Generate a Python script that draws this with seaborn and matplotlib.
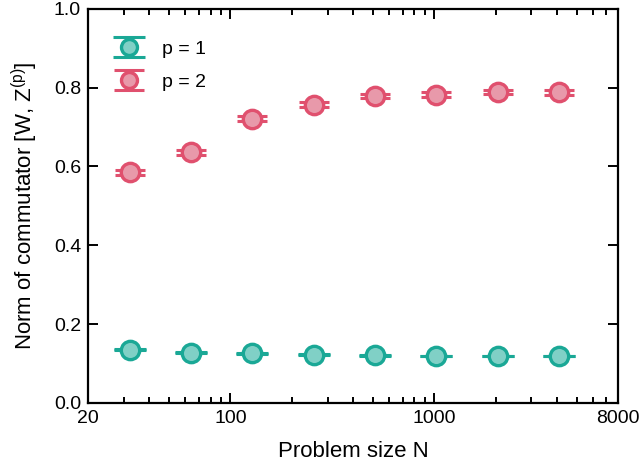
#Module
import numpy as np
import pandas as pd
import matplotlib
matplotlib.use('Agg')
import matplotlib.pyplot as plt
import seaborn as sns
from matplotlib.lines import Line2D
from matplotlib.ticker import FixedLocator, NullFormatter, LogLocator

#Daten
n_sizes = [32, 64, 128, 256, 512, 1024, 2048, 4096]
norm_p1 = [0.135, 0.127, 0.126, 0.122, 0.121, 0.119, 0.119, 0.119]
err_p1 = [0.001, 0.001, 0.001, 0.001, 0.001, 0.001, 0.001, 0.001]
norm_p2 = [0.585, 0.636, 0.721, 0.757, 0.779, 0.782, 0.789, 0.788]
err_p2 = [0.006, 0.006, 0.006, 0.006, 0.006, 0.006, 0.006, 0.006]
labels = ['p = 1', 'p = 2']

edge_cols = ['#1aa896', '#e0506e']
face_cols = ['#80d0c6', '#e899aa']

#Stil
sns.set_style('ticks')
plt.rcParams['font.family'] = ['Liberation Sans', 'DejaVu Sans']
plt.rcParams['mathtext.fontset'] = 'custom'
plt.rcParams['mathtext.rm'] = 'Liberation Sans'
plt.rcParams['mathtext.it'] = 'Liberation Sans'
plt.rcParams['text.color'] = 'black'
plt.rcParams['axes.labelcolor'] = 'black'
plt.rcParams['xtick.color'] = 'black'
plt.rcParams['ytick.color'] = 'black'

fig = plt.figure(figsize=(6.42, 4.69), dpi=100)
ax = fig.add_axes([0.137, 0.141, 0.826, 0.840])

handles = []
for vals, errs, ec, fc, cs in [(norm_p1, err_p1, edge_cols[0], face_cols[0], 11.5),
                               (norm_p2, err_p2, edge_cols[1], face_cols[1], 10.5)]:
    df = pd.DataFrame({'N': n_sizes, 'norm': vals})
    eb = ax.errorbar(n_sizes, vals, yerr=errs, fmt='none', ecolor=ec,
                     elinewidth=2.2, capsize=cs, capthick=2.2, zorder=2)
    sns.scatterplot(data=df, x='N', y='norm', ax=ax, s=175, color=fc,
                    edgecolor=ec, linewidth=2.4, zorder=3, legend=False)
    mk = Line2D([], [], marker='o', linestyle='none', markersize=11.5,
                markerfacecolor=fc, markeredgecolor=ec, markeredgewidth=2.4)
    handles.append((eb, mk))

ax.set_xscale('log')
ax.set_xlim(20, 8000)
ax.set_ylim(0, 1.0)
ax.xaxis.set_major_locator(FixedLocator([20, 100, 1000, 8000]))
ax.set_xticklabels(['20', '100', '1000', '8000'])
ax.xaxis.set_minor_locator(LogLocator(base=10, subs=np.arange(2, 10)))
ax.xaxis.set_minor_formatter(NullFormatter())
ax.set_yticks(np.arange(0, 1.01, 0.2))
ax.set_yticklabels(['%.1f' % v for v in np.arange(0, 1.01, 0.2)])

ax.tick_params(which='both', direction='in', top=True, right=True,
               labelsize=14, width=1.4, colors='black')
ax.tick_params(which='major', length=7, pad=5)
ax.tick_params(which='minor', length=4)
for sp in ax.spines.values():
    sp.set_linewidth(1.6)
    sp.set_color('black')

ax.set_xlabel('Problem size N', fontsize=16, labelpad=10, color='black')
ax.set_ylabel(r'Norm of commutator [W, Z$^{(\mathrm{p})}$]', fontsize=16, labelpad=10, color='black')

leg = ax.legend(handles, labels, loc='upper left', frameon=False, fontsize=14,
                bbox_to_anchor=(0.015, 0.965), handlelength=1.6, handletextpad=0.9,
                labelspacing=0.8)
for t in leg.get_texts():
    t.set_color('black')

fig.savefig('out.png', dpi=100)
